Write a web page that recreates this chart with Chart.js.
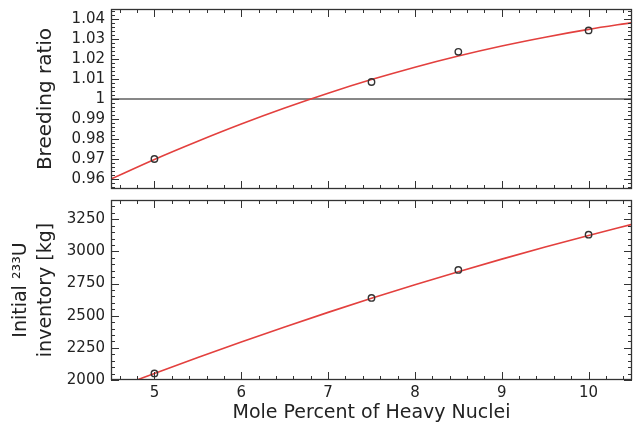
<!DOCTYPE html>
<html><head><meta charset="utf-8">
<script src="https://cdn.jsdelivr.net/npm/chart.js@4"></script>
<style>
html,body{margin:0;padding:0;background:#fff;width:634px;height:430px;overflow:hidden}
#c1{position:absolute;left:0;top:0}
#c2{position:absolute;left:0;top:195px}
</style>
</head><body>
<canvas id="c1" width="634" height="195"></canvas>
<canvas id="c2" width="634" height="235"></canvas>
<script>
// ---- data ----
const xTicks = [5, 6, 7, 8, 9, 10];
const brTicks = [0.96, 0.97, 0.98, 0.99, 1.00, 1.01, 1.02, 1.03, 1.04];
const invTicks = [2000, 2250, 2500, 2750, 3000, 3250];

const moleX = [5, 7.5, 8.5, 10];
const breedingRatio = [0.970, 1.0085, 1.0236, 1.0343];
const inventoryKg = [2051, 2638, 2856, 3130];

const brFitX = [4.5, 5, 5.5, 6, 6.5, 7, 7.5, 8, 8.5, 9, 9.5, 10, 10.5];
const brFitY = [0.9600, 0.9698, 0.9789, 0.9875, 0.9955, 1.0029, 1.0097, 1.0159, 1.0215, 1.0265, 1.0309, 1.0348, 1.0382];

const invFitX = [4.8, 5, 5.5, 6, 6.5, 7, 7.5, 8, 8.5, 9, 9.5, 10, 10.5];
const invFitY = [2000, 2051, 2175, 2296, 2413, 2526, 2635, 2740, 2842, 2940, 3034, 3124, 3211];

const refLineX = [4.5, 10.5];
const refLineY = [1, 1];

// ---- helpers ----
const zip = (xs, ys) => xs.map((v, i) => ({x: v, y: ys[i]}));
const FONT = "'DejaVu Sans', sans-serif";
const INK = '#222';
const RED = '#e3403e';

const boxTicks = {
  id: 'boxTicks',
  afterDatasetsDraw(chart, args, o) {
    const {ctx, chartArea: a, scales: {x, y}} = chart;
    ctx.save();
    ctx.strokeStyle = '#333';
    ctx.lineWidth = 1;
    const seg = (x1, y1, x2, y2) => { ctx.beginPath(); ctx.moveTo(x1, y1); ctx.lineTo(x2, y2); ctx.stroke(); };
    const MAJ = 8, MIN = 4;
    const n1 = Math.ceil((x.min - 1e-9) / o.xMinor), n2 = Math.floor((x.max + 1e-9) / o.xMinor);
    for (let n = n1; n <= n2; n++) {
      const v = n * o.xMinor;
      const major = o.xMajor.some(t => Math.abs(t - v) < 1e-6);
      const L = major ? MAJ : MIN;
      const px = Math.round(x.getPixelForValue(v)) + 0.5;
      seg(px, a.bottom, px, a.bottom - L);
      seg(px, a.top, px, a.top + L);
    }
    const m1 = Math.ceil((y.min - 1e-9) / o.yMinor), m2 = Math.floor((y.max + 1e-9) / o.yMinor);
    for (let n = m1; n <= m2; n++) {
      const v = n * o.yMinor;
      const major = o.yMajor.some(t => Math.abs(t - v) < 1e-6);
      const L = major ? MAJ : MIN;
      const py = Math.round(y.getPixelForValue(v)) + 0.5;
      seg(a.left, py, a.left + L, py);
      seg(a.right, py, a.right - L, py);
    }
    ctx.lineWidth = 1.3;
    ctx.strokeRect(Math.round(a.left) + 0.5, Math.round(a.top) + 0.5, Math.round(a.width) - 1, Math.round(a.height) - 1);
    ctx.restore();
  }
};

const fitLine = (data) => ({
  type: 'line', data, borderColor: RED, borderWidth: 1.6, pointRadius: 0,
  fill: false, cubicInterpolationMode: 'monotone', order: 2
});
const pts = (data) => ({
  type: 'scatter', data, pointStyle: 'circle', pointRadius: 3.2,
  pointBorderWidth: 1.4, pointBorderColor: '#333', pointBackgroundColor: 'rgba(255,255,255,0)', order: 1
});

const common = {
  responsive: false, animation: false, devicePixelRatio: 1,
  plugins: {legend: {display: false}, tooltip: {enabled: false}}
};
const noPad = s => { s.paddingTop = 0; s.paddingBottom = 0; s.paddingLeft = 0; s.paddingRight = 0; };

// ---- top chart ----
new Chart(document.getElementById('c1'), {
  type: 'scatter',
  data: {datasets: [
    {type: 'line', data: zip(refLineX, refLineY), borderColor: '#111', borderWidth: 1.2, pointRadius: 0, order: 3},
    fitLine(zip(brFitX, brFitY)),
    pts(zip(moleX, breedingRatio))
  ]},
  options: Object.assign({}, common, {
    layout: {autoPadding: false, padding: {top: 9, right: 2, bottom: 6, left: 0}},
    plugins: Object.assign({}, common.plugins, {
      boxTicks: {xMinor: 0.2, xMajor: xTicks, yMinor: 0.002, yMajor: brTicks}
    }),
    scales: {
      x: {type: 'linear', min: 4.5, max: 10.5, display: false},
      y: {
        type: 'linear', min: 0.955, max: 1.045,
        afterBuildTicks: s => { s.ticks = brTicks.map(v => ({value: v})); },
        afterFit: s => { s.width = 111; noPad(s); },
        grid: {display: false, drawTicks: false}, border: {display: false},
        ticks: {padding: 6, color: INK, font: {family: FONT, size: 15},
                callback: v => String(+v.toFixed(2))},
        title: {display: true, text: 'Breeding ratio', color: INK,
                font: {family: FONT, size: 20}, padding: {top: 34, bottom: 0}}
      }
    }
  }),
  plugins: [boxTicks]
});

// ---- bottom chart ----
new Chart(document.getElementById('c2'), {
  type: 'scatter',
  data: {datasets: [
    fitLine(zip(invFitX, invFitY)),
    pts(zip(moleX, inventoryKg))
  ]},
  options: Object.assign({}, common, {
    layout: {autoPadding: false, padding: {top: 5, right: 2, bottom: 0, left: 0}},
    plugins: Object.assign({}, common.plugins, {
      boxTicks: {xMinor: 0.2, xMajor: xTicks, yMinor: 50, yMajor: invTicks}
    }),
    scales: {
      x: {
        type: 'linear', min: 4.5, max: 10.5,
        afterBuildTicks: s => { s.ticks = xTicks.map(v => ({value: v})); },
        afterFit: s => { s.height = 50; noPad(s); },
        grid: {display: false, drawTicks: false}, border: {display: false},
        ticks: {padding: 4, color: INK, font: {family: FONT, size: 15}, maxRotation: 0},
        title: {display: true, text: 'Mole Percent of Heavy Nuclei', color: INK,
                font: {family: FONT, size: 19}, padding: {top: 0, bottom: 6}}
      },
      y: {
        type: 'linear', min: 2000, max: 3400,
        afterBuildTicks: s => { s.ticks = invTicks.map(v => ({value: v})); },
        afterFit: s => { s.width = 111; noPad(s); },
        grid: {display: false, drawTicks: false}, border: {display: false},
        ticks: {padding: 6, color: INK, font: {family: FONT, size: 15}, callback: v => String(v)},
        title: {display: true, text: ['Initial \u00B2\u00B3\u00B3U', 'inventory [kg]'], color: INK,
                font: {family: FONT, size: 19, lineHeight: 1.3}, padding: {top: 9, bottom: 0}}
      }
    }
  }),
  plugins: [boxTicks]
});
</script>
</body></html>
